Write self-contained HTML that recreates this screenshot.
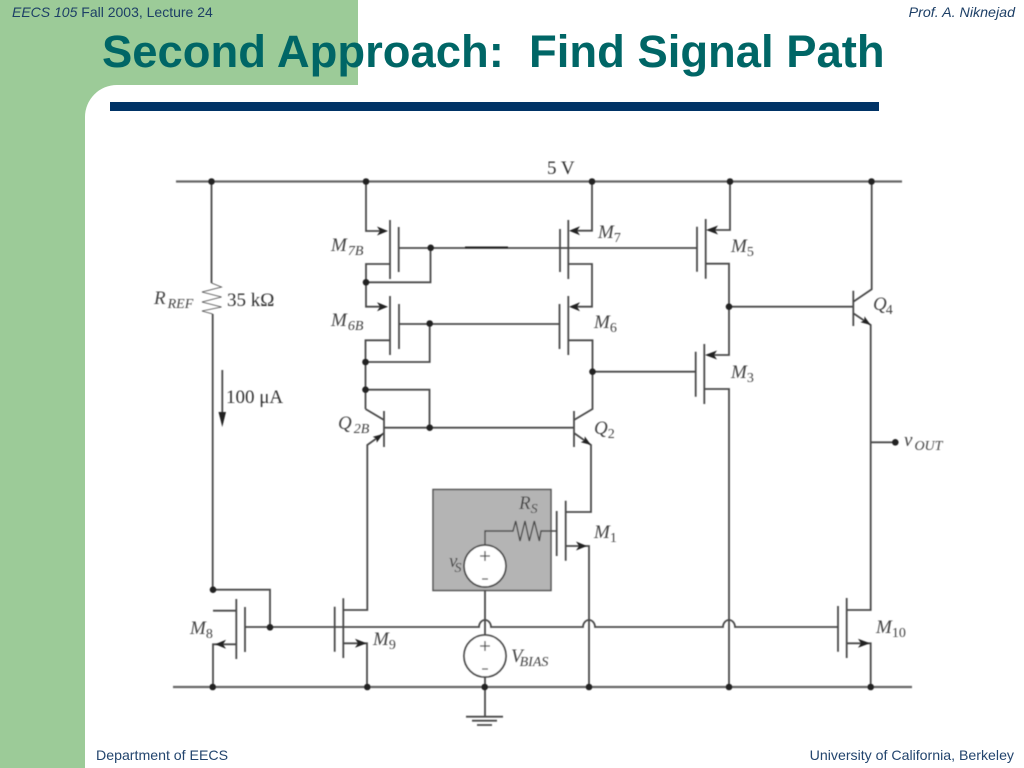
<!DOCTYPE html>
<html><head><meta charset="utf-8"><style>
html,body{margin:0;padding:0;background:#fff}
body{width:1024px;height:768px;overflow:hidden}
svg{display:block}
.t{font-family:"Liberation Sans",sans-serif;fill:#1d3f66;font-size:14px}
.f{font-family:"Liberation Sans",sans-serif;fill:#23456e;font-size:14.15px}
.m{font-family:"Liberation Serif",serif;font-style:italic;fill:#444;font-size:19px}
.s{font-family:"Liberation Serif",serif;font-style:italic;fill:#444;font-size:14px}
.d{font-style:normal;font-size:14px}
.n{font-family:"Liberation Serif",serif;fill:#333;font-size:19px}
</style></head><body>
<svg width="1024" height="768" viewBox="0 0 1024 768" xmlns="http://www.w3.org/2000/svg">
<defs><filter id="b" x="-5%" y="-5%" width="110%" height="110%"><feGaussianBlur stdDeviation="0.4"/></filter></defs>
<rect width="1024" height="768" fill="#fff"/>
<rect x="0" y="0" width="85" height="768" fill="#9ccb98"/>
<rect x="0" y="0" width="358" height="85" fill="#9ccb98"/>
<path d="M85 85H117A32 32 0 0 0 85 117Z" fill="#9ccb98"/>
<rect x="110" y="102" width="769" height="9" fill="#003366"/>
<text x="12" y="17" class="t"><tspan font-style="italic">EECS 105</tspan> Fall 2003, Lecture 24</text>
<text x="1015" y="17" class="t" style="font-size:14.25px" text-anchor="end" font-style="italic">Prof. A. Niknejad</text>
<text x="102" y="67" font-family="'Liberation Sans',sans-serif" font-weight="700" font-size="45.4" fill="#006666" xml:space="preserve">Second Approach:  Find Signal Path</text>
<text x="96" y="760" class="f">Department of EECS</text>
<text x="1014" y="760" class="f" text-anchor="end">University of California, Berkeley</text>

<g filter="url(#b)">
<rect x="433" y="489.5" width="118" height="101" fill="#b4b4b4" stroke="#555" stroke-width="1.5"/>
<g fill="none" stroke="#4a4a4a" stroke-width="1.8">
<!-- rails -->
<path d="M176 181.5H902M173 687H912" stroke="#666" stroke-width="2.2"/>
<!-- R ref -->
<path d="M211.5 181.5V283M212.7 314V590"/>
<path d="M211.5 283L221.5 287L202 292L221.5 297L202 302L221.5 307L202 311L212.7 314" stroke-width="0.8"/>
<path d="M222.3 370V412"/>
<!-- M7B -->
<path d="M366 181.5V231H382M390 220V279M398.7 227V272M399 248H697M390 264H366V306.7H382M430.5 248V282.3H366"/>
<path d="M465 247.5H508" stroke="#222" stroke-width="2"/>
<!-- M6B -->
<path d="M390 296V355M399 304V349M399 324H559.5M390 340.3H365.5V409M429.7 324V362H365.5M365.5 389.7H429.5V427.7"/>
<!-- Q2B -->
<path d="M384 411V447M384 420L365.5 409M384 427.7H574M384 433L367.3 445V610H343.3"/>
<!-- Q2 -->
<path d="M574 411V447M574 420L592.5 409V340.3H568.3M574 433L591 445V512H565.7"/>
<!-- M7 -->
<path d="M592 181.5V230.7H575M568.3 220V279M560 229V272M568.3 264H592V306.7H575M568.3 296V355M559.5 304V349"/>
<!-- M5 -->
<path d="M730 181.5V230H712M705.7 219V278.7M697 226.7V271.7M705.7 263.7H729V355H711"/>
<path d="M729 306.7H853.3"/>
<!-- M3 -->
<path d="M592.5 371.7H695.7M695.7 351.7V396.7M704.3 344V404M704.3 389H729V687"/>
<!-- Q4 -->
<path d="M853.3 290.7V326M853.3 301.7L871.7 289.3V181.5M853.3 313.3L870.7 325V610H846.7M871 442.3H895"/>
<!-- M1 -->
<path d="M565.7 500.7V560.7M556.7 511V556M565.7 546H589V687"/>
<path d="M556.7 531H541L539.3 541L534.3 521L529.3 541L525 521L520 541L515.7 521L513 531H485V545" stroke-width="1.4"/>
<!-- vs bias -->
<circle cx="485" cy="566" r="21" fill="#fff"/>
<path d="M485 590.5V635"/>
<circle cx="485" cy="656" r="21" fill="#fff"/>
<path d="M485 677V716.7M466 716.7H503M472 720.7H497M477 725H492"/>
<path d="M480 556H490M485 551V561M482 579H488M480 646H490M485 641V651M482 669H488" stroke-width="1.3"/>
<!-- M8 -->
<path d="M213 589.7H270V627M213 610.7H236.3M236.3 599V659M245 607V652M236 644.3H213V687"/>
<!-- gate bus -->
<path d="M245 627H479A6 7 0 0 1 491 627H583A6 7 0 0 1 595 627H723A6 7 0 0 1 735 627H838"/>
<!-- M9 -->
<path d="M334.7 606.7V651.7M343.3 598.3V658M343.3 643.3H367V687"/>
<!-- M10 -->
<path d="M838 606V651.7M846.7 598V658M846.7 643.3H870.7V687"/>
</g>
<!-- arrowheads -->
<g fill="#222">
<path d="M388 231L377 226.5L380 231L377 235.5Z"/>
<path d="M388 306.7L377 302.2L380 306.7L377 311.2Z"/>
<path d="M569 230.7L580 226.2L577 230.7L580 235.2Z"/>
<path d="M569 306.7L580 302.2L577 306.7L580 311.2Z"/>
<path d="M706 230L718 225.5L715 230L718 234.5Z"/>
<path d="M705 355L717 350.5L714 355L717 359.5Z"/>
<path d="M587 546L576 541.5L579 546L576 550.5Z"/>
<path d="M215 644.3L226 639.8L223 644.3L226 648.8Z"/>
<path d="M366.7 643.3L355 638.8L358 643.3L355 647.8Z"/>
<path d="M870 643.3L858 638.8L861 643.3L858 647.8Z"/>
<path d="M222.3 427L218.5 412H226Z"/>
<path d="M383 434L372.8 436.8L376.3 438.6L376.8 442.6Z"/>
<path d="M591 445L580.8 442.2L584.5 440.4L584.8 436.4Z"/>
<path d="M870.7 325L860.5 322.2L864.2 320.4L864.5 316.4Z"/>
<circle cx="211.5" cy="181.5" r="3.3"/><circle cx="366" cy="181.5" r="3.3"/><circle cx="592" cy="181.5" r="3.3"/><circle cx="730" cy="181.5" r="3.3"/><circle cx="871.5" cy="181.5" r="3.3"/>
<circle cx="430.7" cy="247.8" r="3.3"/><circle cx="366" cy="282.3" r="3.3"/><circle cx="429.7" cy="323.5" r="3.3"/><circle cx="365.5" cy="362" r="3.3"/><circle cx="365.5" cy="389.7" r="3.3"/><circle cx="429.7" cy="427.7" r="3.3"/>
<circle cx="592.5" cy="371.7" r="3.3"/><circle cx="729" cy="306.7" r="3.3"/><circle cx="895.3" cy="442.3" r="3.3"/>
<circle cx="213" cy="589.7" r="3.3"/><circle cx="270" cy="627.3" r="3.3"/>
<circle cx="212.7" cy="687" r="3.3"/><circle cx="367.3" cy="687" r="3.3"/><circle cx="484.7" cy="687" r="3.3"/><circle cx="589" cy="687" r="3.3"/><circle cx="729" cy="687" r="3.3"/><circle cx="870.7" cy="687" r="3.3"/>
</g>
<!-- labels -->
<text x="547" y="174" class="n">5 V</text>
<text x="154" y="304" class="m">R<tspan class="s" dy="4" dx="2">REF</tspan></text>
<text x="227" y="306" class="n">35 kΩ</text>
<text x="226" y="403" class="n">100 μA</text>
<text x="331" y="251" class="m">M<tspan class="s" dy="4" dx="1">7B</tspan></text>
<text x="331" y="326" class="m">M<tspan class="s" dy="4" dx="1">6B</tspan></text>
<text x="338" y="429" class="m">Q<tspan class="s" dy="4" dx="2">2B</tspan></text>
<text x="598" y="238" class="m">M<tspan class="d" dy="4">7</tspan></text>
<text x="594" y="328" class="m">M<tspan class="d" dy="4">6</tspan></text>
<text x="594" y="434" class="m">Q<tspan class="d" dy="4">2</tspan></text>
<text x="731" y="252" class="m">M<tspan class="d" dy="4">5</tspan></text>
<text x="731" y="378" class="m">M<tspan class="d" dy="4">3</tspan></text>
<text x="873" y="310" class="m">Q<tspan class="d" dy="4" dx="-1">4</tspan></text>
<text x="904" y="446" class="m">v<tspan class="s" dy="4" dx="2">OUT</tspan></text>
<text x="519" y="509" class="m">R<tspan class="s" dy="4">S</tspan></text>
<text x="449" y="567" class="m">v<tspan class="s" dy="5" dx="-3">S</tspan></text>
<text x="594" y="538" class="m">M<tspan class="d" dy="4">1</tspan></text>
<text x="190" y="634" class="m">M<tspan class="d" dy="4">8</tspan></text>
<text x="373" y="645" class="m">M<tspan class="d" dy="4">9</tspan></text>
<text x="511" y="662" class="m">V<tspan class="s" dy="4" dx="-3">BIAS</tspan></text>
<text x="876" y="633" class="m">M<tspan class="d" dy="4">10</tspan></text>
</g>
</svg>
</body></html>
